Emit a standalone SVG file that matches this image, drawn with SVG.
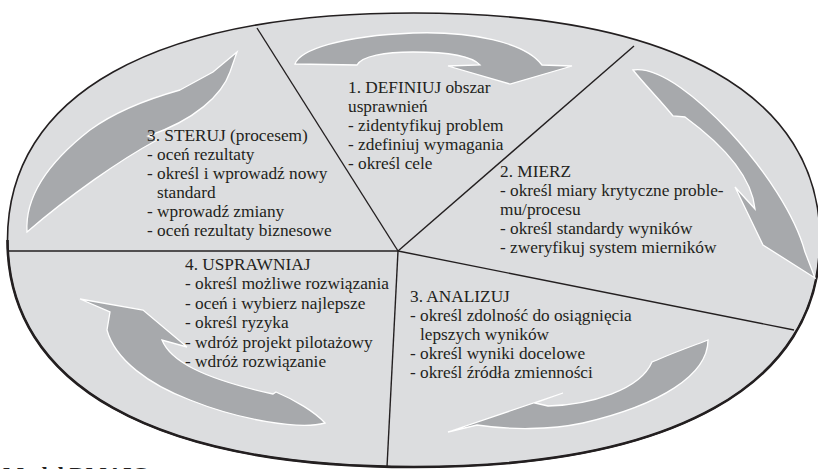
<svg xmlns="http://www.w3.org/2000/svg" width="818" height="469" viewBox="0 0 818 469">
<style>
.bg{fill:#dcdddf;stroke:#231f20;stroke-width:1.6}
.rim{fill:none;stroke:#231f20;stroke-width:2.6}
.sp{stroke:#231f20;stroke-width:1.4;fill:none}
.ar{fill:#a7a9ac;stroke:#ffffff;stroke-width:1.3;stroke-linejoin:miter}
.t{font-family:"Liberation Serif","Times New Roman",serif;font-size:17.3px;fill:#231f20}
.cap{font-family:"Liberation Serif","Times New Roman",serif;font-size:22.4px;font-weight:bold;fill:#231f20}
</style>
<rect width="818" height="469" fill="#ffffff"/>
<g id="wheel">
<path class="bg" d="M820,240 C820,385.3 673.8,467 413.75,467 C153.7,467 7.5,385.3 7.5,240 C7.5,94.7 153.7,13 413.75,13 C673.8,13 820,94.7 820,240 Z"/>
<path class="rim" d="M820,240 C820,385.3 673.8,467 413.75,467 C153.7,467 7.5,385.3 7.5,240"/>
</g>
<g id="dividers">
<line class="sp" x1="398" y1="251" x2="257" y2="28"/>
<line class="sp" x1="398" y1="251" x2="634" y2="46"/>
<line class="sp" x1="398" y1="251" x2="794" y2="330"/>
<line class="sp" x1="398" y1="251" x2="387" y2="467"/>
<line class="sp" x1="398" y1="251" x2="8" y2="251"/>
</g>
<g id="connectors">
<path id="arrow-1-2" class="ar" d="M295,64 C300,50 340,36 413,33 C470,31 525,42 542,65 L572,66 L510,84 L448,66 L480,65 C470,54 440,52 413,52 C385,52 362,56 357,65 Z"/>
<path id="arrow-2-3" class="ar" d="M633,70 C660,66 700,100 730,132 C765,170 795,215 805,252 L815,278 L763,245 L735,187 L755,209 C752,180 730,150 685,117 L673,116 C660,100 645,85 633,70 Z"/>
<path id="arrow-3-4" class="ar" d="M708,340 C708,375 660,405 583,423 C550,430 510,430 477,425 L448,432 L563,393 L535,403 L548,406 C590,405 640,390 652,362 L657,360 C675,352 695,345 708,340 Z"/>
<path id="arrow-4-5" class="ar" d="M325,423 C300,430 240,420 190,400 C150,385 115,360 107,330 L110,312 L80,299 L143,310 L187,347 L162,340 C170,360 200,378 273,394 L276,392 C295,400 315,412 325,423 Z"/>
<path id="arrow-5-1" class="ar" d="M27,232 C25,200 45,165 90,130 C120,108 155,97 180,90 L213,72 L237,52 L230,72 C222,95 195,120 148,136 L157,140 C120,160 70,195 27,232 Z"/>
</g>
<g id="node-define">
<text class="t" x="348" y="93">1. DEFINIUJ obszar</text>
<text class="t" x="348" y="112">usprawnień</text>
<text class="t" x="348" y="131">- zidentyfikuj problem</text>
<text class="t" x="348" y="150">- zdefiniuj wymagania</text>
<text class="t" x="348" y="169">- określ cele</text>
</g>
<g id="node-measure">
<text class="t" x="500" y="177">2. MIERZ</text>
<text class="t" x="500" y="196">- określ miary krytyczne proble-</text>
<text class="t" x="500" y="215">mu/procesu</text>
<text class="t" x="500" y="234">- określ standardy wyników</text>
<text class="t" x="500" y="253">- zweryfikuj system mierników</text>
</g>
<g id="node-analyze">
<text class="t" x="410" y="302">3. ANALIZUJ</text>
<text class="t" x="410" y="321">- określ zdolność do osiągnięcia</text>
<text class="t" x="420" y="340">lepszych wyników</text>
<text class="t" x="410" y="359">- określ wyniki docelowe</text>
<text class="t" x="410" y="378">- określ źródła zmienności</text>
</g>
<g id="node-improve">
<text class="t" x="185" y="270">4. USPRAWNIAJ</text>
<text class="t" x="185" y="289.4">- określ możliwe rozwiązania</text>
<text class="t" x="185" y="308.8">- oceń i wybierz najlepsze</text>
<text class="t" x="185" y="328.2">- określ ryzyka</text>
<text class="t" x="185" y="347.6">- wdróż projekt pilotażowy</text>
<text class="t" x="185" y="367">- wdróż rozwiązanie</text>
</g>
<g id="node-control">
<text class="t" x="147" y="141">3. STERUJ (procesem)</text>
<text class="t" x="147" y="160">- oceń rezultaty</text>
<text class="t" x="147" y="179">- określ i wprowadź nowy</text>
<text class="t" x="157" y="198">standard</text>
<text class="t" x="147" y="217">- wprowadź zmiany</text>
<text class="t" x="147" y="236">- oceń rezultaty biznesowe</text>
</g>
<g id="caption">
<text class="cap" x="3" y="483">Model DMAIC</text>
</g>
</svg>
